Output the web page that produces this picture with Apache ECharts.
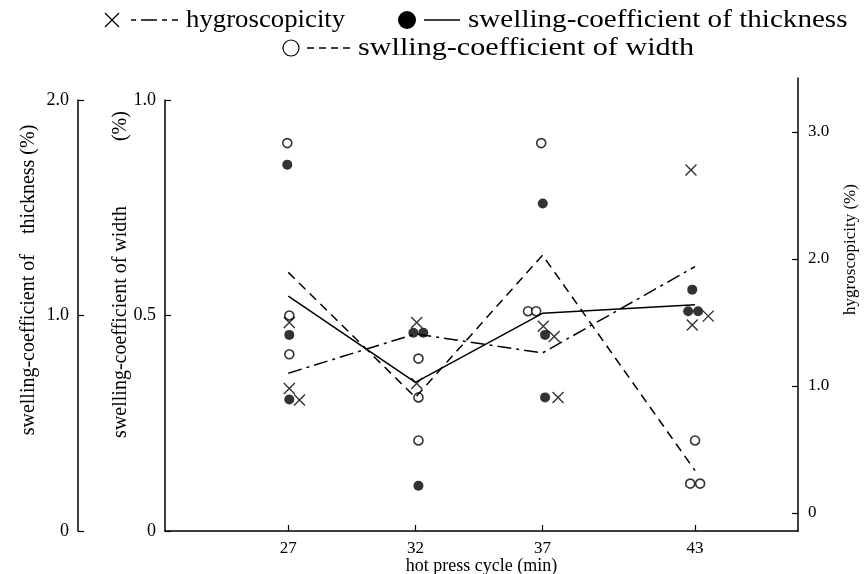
<!DOCTYPE html>
<html>
<head>
<meta charset="utf-8">
<script src="https://cdn.jsdelivr.net/npm/echarts@6/dist/echarts.min.js"></script>
<style>
html, body { margin: 0; padding: 0; background: #fff; }
#chart { width: 864px; height: 574px; }
</style>
</head>
<body>
<div id="chart"></div>
<script>
// hot press cycle (min)
const cycles = [27, 32, 37, 43];

// single measurements: [cycle as plotted (points are nudged sideways), value]
const thicknessPoints = [
  [26.96, 1.70], [27.04, 0.91], [27.04, 0.61],
  [31.92, 0.92], [32.31, 0.92], [32.12, 0.21],
  [37.01, 1.52], [37.10, 0.91], [37.10, 0.62],
  [42.89, 1.12], [42.73, 1.02], [43.12, 1.02]
];
const widthPoints = [
  [26.96, 0.90], [27.04, 0.50], [27.04, 0.41],
  [32.12, 0.40], [32.12, 0.31], [32.12, 0.21],
  [36.95, 0.90], [36.43, 0.51], [36.75, 0.51],
  [43.00, 0.21], [42.81, 0.11], [43.20, 0.11]
];
const hygroPoints = [
  [27.04, 1.50], [27.04, 0.98], [27.44, 0.89],
  [32.05, 1.50], [32.05, 1.02],
  [37.03, 1.47], [37.46, 1.39], [37.61, 0.91],
  [42.84, 2.70], [43.52, 1.55], [42.89, 1.48]
];

// mean lines
const thicknessMean = [1.09, 0.69, 1.01, 1.05];
const widthMean = [0.60, 0.31, 0.64, 0.14];
const hygroMean = [1.10, 1.41, 1.26, 1.94];

// tick labels
const thicknessTicks = [0, 1.0, 2.0];
const widthTicks = [0, 0.5, 1.0];
const hygroTicks = [0, 1.0, 2.0, 3.0];

const serif = "'Liberation Serif', 'Times New Roman', serif";
const black = '#000';
const fmt = v => (v === 0 ? '0' : v.toFixed(1));
const pair = (xs, ys) => xs.map((x, i) => [x, ys[i]]);

const chart = echarts.init(document.getElementById('chart'), null, { renderer: 'canvas' });

const yAxisBase = (ticks) => ({
  type: 'value',
  axisLine: { show: true, onZero: false, lineStyle: { color: black, width: 1.5 } },
  axisTick: { show: true, inside: true, length: 6, customValues: ticks, lineStyle: { color: black, width: 1.2 } },
  axisLabel: { customValues: ticks, formatter: fmt, color: black, fontFamily: serif, fontSize: 18, margin: 9 },
  splitLine: { show: false },
  nameLocation: 'middle',
  nameRotate: 90,
  nameMoveOverlap: false
});

const option = {
  backgroundColor: '#fff',
  animation: false,
  grid: [
    { left: 165, right: 66, top: 100, bottom: 43, outerBoundsMode: 'none' },
    { left: 165, right: 66, top: 78, bottom: 43, outerBoundsMode: 'none' }
  ],
  xAxis: [
    {
      gridIndex: 0,
      type: 'value',
      min: 22.15,
      max: 47.05,
      axisLine: { onZero: false, lineStyle: { color: black, width: 1.5 } },
      axisTick: { inside: true, length: 6, customValues: cycles, lineStyle: { color: black, width: 1.2 } },
      axisLabel: { customValues: cycles, color: black, fontFamily: serif, fontSize: 17, margin: 9 },
      splitLine: { show: false },
      name: 'hot press cycle (min)',
      nameLocation: 'middle',
      nameGap: 26,
      nameMoveOverlap: false,
      nameTextStyle: { color: black, fontFamily: serif, fontSize: 18 }
    },
    { gridIndex: 1, type: 'value', min: 22.15, max: 47.05, show: false }
  ],
  yAxis: [
    Object.assign(yAxisBase(widthTicks), {
      gridIndex: 0, position: 'left', min: 0, max: 1.0,
      name: 'swelling-coefficient of width             (%)',
      nameGap: 34,
      nameTextStyle: { color: black, fontFamily: serif, fontSize: 20, padding: [0, 0, 0, 82] }
    }),
    Object.assign(yAxisBase(thicknessTicks), {
      gridIndex: 0, position: 'left', offset: 87, min: 0, max: 2.0,
      name: 'swelling-coefficient of    thickness (%)',
      nameGap: 39,
      nameTextStyle: { color: black, fontFamily: serif, fontSize: 20, padding: [0, 0, 0, 71] }
    }),
    Object.assign(yAxisBase(hygroTicks), {
      gridIndex: 1, position: 'right', min: -0.142, max: 3.425,
      name: 'hygroscopicity (%)',
      nameGap: 44,
      axisLabel: { customValues: hygroTicks, formatter: fmt, color: black, fontFamily: serif, fontSize: 17, margin: 10 },
      nameTextStyle: { color: black, fontFamily: serif, fontSize: 17, padding: [0, 0, 0, 110] }
    })
  ],
  series: [
    {
      name: 'swelling-coefficient of thickness',
      type: 'line', xAxisIndex: 0, yAxisIndex: 1,
      data: pair(cycles, thicknessMean),
      showSymbol: false, silent: true,
      lineStyle: { color: black, width: 1.5, type: 'solid' }
    },
    {
      name: 'swlling-coefficient of width',
      type: 'line', xAxisIndex: 0, yAxisIndex: 0,
      data: pair(cycles, widthMean),
      showSymbol: false, silent: true,
      lineStyle: { color: black, width: 1.5, type: [9, 6] }
    },
    {
      name: 'hygroscopicity',
      type: 'line', xAxisIndex: 1, yAxisIndex: 2,
      data: pair(cycles, hygroMean),
      showSymbol: false, silent: true,
      lineStyle: { color: black, width: 1.5, type: [14, 5, 3, 5] }
    },
    {
      type: 'scatter', xAxisIndex: 0, yAxisIndex: 1,
      data: thicknessPoints,
      symbol: 'circle', symbolSize: 10,
      itemStyle: { color: black }
    },
    {
      type: 'scatter', xAxisIndex: 0, yAxisIndex: 0,
      data: widthPoints,
      symbol: 'circle', symbolSize: 9,
      itemStyle: { color: '#fff', borderColor: black, borderWidth: 1.6 }
    },
    {
      type: 'scatter', xAxisIndex: 1, yAxisIndex: 2,
      data: hygroPoints,
      symbol: 'path://M0,0L10,10M10,0L0,10', symbolSize: 11,
      itemStyle: { color: 'none', borderColor: black, borderWidth: 1.4 }
    }
  ],
  graphic: [
    { type: 'line', shape: { x1: 105, y1: 13, x2: 119, y2: 27 }, style: { stroke: black, lineWidth: 1.2 } },
    { type: 'line', shape: { x1: 105, y1: 27, x2: 119, y2: 13 }, style: { stroke: black, lineWidth: 1.2 } },
    { type: 'line', shape: { x1: 131, y1: 20, x2: 178, y2: 20 }, style: { stroke: black, lineWidth: 1.5, lineDash: [5, 5, 16, 5] } },
    { type: 'text', x: 186, y: 20, scaleX: 1.03, style: { text: 'hygroscopicity', font: '26px ' + serif, fill: black, verticalAlign: 'middle' } },
    { type: 'circle', shape: { cx: 407, cy: 20, r: 9 }, style: { fill: black } },
    { type: 'line', shape: { x1: 424, y1: 20, x2: 460, y2: 20 }, style: { stroke: black, lineWidth: 1.5 } },
    { type: 'text', x: 468, y: 20, scaleX: 1.12, style: { text: 'swelling-coefficient of thickness', font: '26px ' + serif, fill: black, verticalAlign: 'middle' } },
    { type: 'circle', shape: { cx: 291, cy: 48, r: 8 }, style: { fill: 'none', stroke: black, lineWidth: 1.2 } },
    { type: 'line', shape: { x1: 307, y1: 48, x2: 350, y2: 48 }, style: { stroke: black, lineWidth: 1.5, lineDash: [7, 5] } },
    { type: 'text', x: 358, y: 48, scaleX: 1.16, style: { text: 'swlling-coefficient of width', font: '26px ' + serif, fill: black, verticalAlign: 'middle' } }
  ]
};

chart.setOption(option);
</script>
</body>
</html>
